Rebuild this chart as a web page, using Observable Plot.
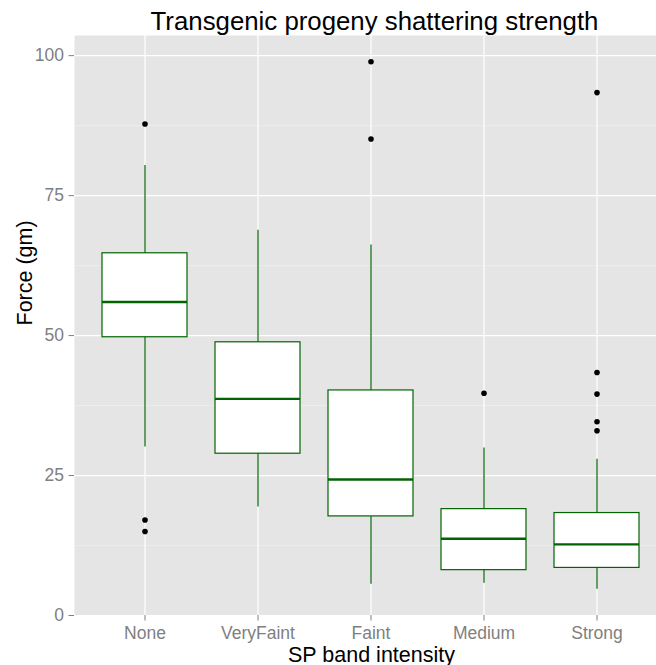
<!DOCTYPE html>
<html>
<head>
<meta charset="utf-8">
<script src="https://cdn.jsdelivr.net/npm/d3@7"></script>
<script src="https://cdn.jsdelivr.net/npm/@observablehq/plot@0.6"></script>
<style>
  html, body { margin: 0; padding: 0; background: #fff; overflow: hidden; }
  svg { overflow: hidden; }
</style>
</head>
<body>
<div id="chart"></div>
<script>
const categories = ["None", "VeryFaint", "Faint", "Medium", "Strong"];
const whiskerLow  = [30.1, 19.4, 5.6, 5.75, 4.7];
const q1          = [49.7, 28.9, 17.7, 8.1, 8.5];
const median      = [56.0, 38.7, 24.3, 13.7, 12.7];
const q3          = [64.7, 48.8, 40.2, 19.0, 18.3];
const whiskerHigh = [80.4, 68.8, 66.2, 29.9, 27.9];

const outlierGroup = ["None", "None", "None", "Faint", "Faint", "Medium", "Strong", "Strong", "Strong", "Strong", "Strong"];
const outlierValue = [87.8, 17.05, 15.0, 98.9, 85.1, 39.7, 93.4, 43.4, 39.55, 34.6, 33.0];

const yTicks = [0, 25, 50, 75, 100];
const yMinor = [12.5, 37.5, 62.5, 87.5];

const titleText = "Transgenic progeny shattering strength";
const xTitle = "SP band intensity";
const yTitle = "Force (gm)";

const boxes = categories.map((c, i) => ({
  cat: c, lo: whiskerLow[i], q1: q1[i], med: median[i], q3: q3[i], hi: whiskerHigh[i]
}));
const outliers = outlierGroup.map((c, i) => ({cat: c, v: outlierValue[i]}));

const green = "#006400";
const font = "'Liberation Sans', Arial, Helvetica, sans-serif";

const chart = Plot.plot({
  width: 656,
  height: 665,
  marginTop: 35,
  marginBottom: 50,
  marginLeft: 74,
  marginRight: 0,
  style: {fontFamily: font, fontSize: "17px", background: "#fff"},
  x: {type: "band", domain: categories, range: [74, 666.8], paddingInner: 0.25, paddingOuter: 0.225, axis: null},
  y: {domain: [0, 103.6], axis: null},
  marks: [
    Plot.frame({fill: "#e5e5e5", stroke: null}),
    Plot.ruleY(yMinor, {stroke: "#f2f2f2", strokeWidth: 0.6}),
    Plot.ruleY(yTicks, {stroke: "#ffffff", strokeWidth: 1.2}),
    Plot.ruleX(categories, {x: d => d, stroke: "#ffffff", strokeWidth: 1.2}),
    Plot.axisY({ticks: yTicks, tickSize: 5.5, tickPadding: 5, label: null, fontSize: 17.5, stroke: "#7f7f7f", fill: "#7f7f7f"}),
    Plot.axisX({tickSize: 5.5, tickPadding: 6, label: null, fontSize: 17.5, stroke: "#7f7f7f", fill: "#7f7f7f"}),
    Plot.ruleX(boxes, {x: "cat", y1: "lo", y2: "hi", stroke: green, strokeWidth: 1.2}),
    Plot.barY(boxes, {x: "cat", y1: "q1", y2: "q3", fill: "#ffffff", stroke: green, strokeWidth: 1.2}),
    Plot.tickY(boxes, {x: "cat", y: "med", stroke: green, strokeWidth: 2.4}),
    Plot.dot(outliers, {x: "cat", y: "v", r: 2.8, fill: "#000000", stroke: null}),
    Plot.text([titleText], {frameAnchor: "top", dx: 9, dy: -5.5, lineAnchor: "bottom", fontSize: 25.8, fill: "#000000", text: d => d}),
    Plot.text([xTitle], {frameAnchor: "bottom", dx: 6, dy: 46, lineAnchor: "bottom", fontSize: 21.5, fill: "#000000", text: d => d}),
    Plot.text([yTitle], {frameAnchor: "left", dx: -42.5, dy: 0, rotate: -90, lineAnchor: "bottom", fontSize: 21.5, fill: "#000000", text: d => d})
  ]
});
document.getElementById("chart").appendChild(chart);
</script>
</body>
</html>
